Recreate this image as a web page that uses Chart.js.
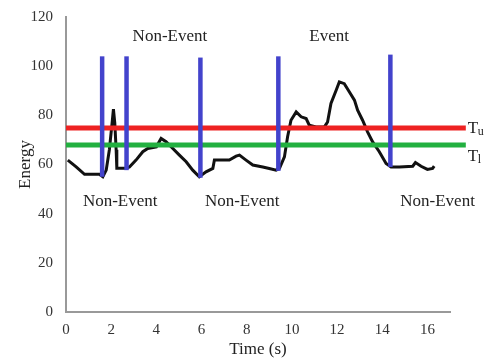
<!DOCTYPE html>
<html>
<head>
<meta charset="utf-8">
<style>
  html, body { margin: 0; padding: 0; background: #fff; }
  #wrap { position: relative; width: 489px; height: 360px; }
</style>
</head>
<body>
<div id="wrap">
  <canvas id="energyChart"></canvas>
</div>

<script src="https://cdn.jsdelivr.net/npm/chart.js@4.4.1/dist/chart.umd.min.js"></script>
<script>
  const ctx = document.getElementById('energyChart');

  // energy curve
  const time   = [0.08, 0.45, 0.82, 1.48, 1.63, 1.78, 1.92, 2.04, 2.1, 2.16, 2.22, 2.25, 2.66, 2.81, 3.1, 3.4, 3.62, 4.0, 4.21, 4.43,
                  4.73, 5.02, 5.32, 5.61, 5.9, 6.2, 6.5, 6.57, 7.23, 7.53, 7.68, 7.97, 8.27, 8.71, 9.0, 9.3, 9.45, 9.67, 9.81, 9.96,
                  10.19, 10.41, 10.63, 10.77, 11.07, 11.44, 11.58, 11.73, 11.96, 12.1, 12.32, 12.54, 12.77, 12.91, 13.13, 13.35, 13.57, 13.87, 14.17, 14.39,
                  14.76, 15.35, 15.47, 15.72, 16.0, 16.23, 16.3];
  const energy = [61.8, 59, 56, 56, 55, 57.7, 66, 76.8, 82.5, 76.8, 66, 58.5, 58.5, 59, 61.8, 65.2, 66.5, 67.2, 70.6, 69.3,
                  66.5, 63.8, 61.1, 57.7, 55, 57, 58.4, 61.8, 61.8, 63.4, 63.8, 61.8, 59.8, 59, 58.4, 57.7, 58.4, 63.1, 71.3, 78,
                  81.4, 79.4, 78.7, 76, 75.3, 75.3, 77.3, 84.8, 90.2, 93.6, 92.9, 89.6, 86.2, 82.1, 78, 73.3, 69.3, 65.2, 60.4, 59,
                  59, 59.3, 60.8, 59.3, 58, 58.4, 59.3];

  // segment boundaries (blue bars)
  const boundX      = [1.6, 2.68, 5.95, 9.4, 14.36];
  const boundTop    = [104, 104, 103.5, 104, 104.7];
  const boundBottom = [55, 57.7, 54.6, 57.4, 59];

  // thresholds
  const upperT = 74.8;
  const lowerT = 67.9;
  const threshEnd = 17.7;

  const xTicks = [0, 2, 4, 6, 8, 10, 12, 14, 16];

  const notes = [
    { text: 'Non-Event', x: 4.6,  y: 112 },
    { text: 'Event',     x: 11.65, y: 112 },
    { text: 'Non-Event', x: 2.4,  y: 45 },
    { text: 'Non-Event', x: 7.8,  y: 45 },
    { text: 'Non-Event', x: 16.45, y: 45 }
  ];

  const datasets = [
    { data: time.map((t, i) => ({ x: t, y: energy[i] })), borderColor: '#111', borderWidth: 3, order: 3 },
    { data: [{ x: 0, y: upperT }, { x: threshEnd, y: upperT }], borderColor: '#ee2222', borderWidth: 5, clip: false, order: 2 },
    { data: [{ x: 0, y: lowerT }, { x: threshEnd, y: lowerT }], borderColor: '#22b040', borderWidth: 5, clip: false, order: 2 }
  ];
  boundX.forEach((bx, i) => {
    datasets.push({ data: [{ x: bx, y: boundBottom[i] }, { x: bx, y: boundTop[i] }], borderColor: '#4343cc', borderWidth: 4.5, order: 1 });
  });

  const notesPlugin = {
    id: 'notes',
    afterDatasetsDraw(chart) {
      const c = chart.ctx;
      const xs = chart.scales.x, ys = chart.scales.y;
      c.save();
      c.fillStyle = '#222';
      c.font = '17px "Liberation Serif", serif';
      c.textAlign = 'center';
      c.textBaseline = 'middle';
      notes.forEach(n => c.fillText(n.text, xs.getPixelForValue(n.x), ys.getPixelForValue(n.y)));
      // threshold names with subscripts
      c.textAlign = 'left';
      [[upperT, 'u', 0], [lowerT, 'l', 11]].forEach(([v, sub, dy]) => {
        const px = xs.getPixelForValue(threshEnd) + 2;
        const py = ys.getPixelForValue(v) + dy;
        c.font = '17px "Liberation Serif", serif';
        c.fillText('T', px, py);
        c.font = '12px "Liberation Serif", serif';
        c.fillText(sub, px + 10, py + 4);
      });
      c.restore();
    }
  };

  new Chart(ctx, {
    type: 'scatter',
    data: { datasets: datasets },
    options: {
      responsive: true,
      maintainAspectRatio: false,
      animation: false,
      showLine: true,
      elements: { point: { radius: 0 }, line: { tension: 0 } },
      layout: { padding: { top: 17, right: 39, left: 0, bottom: 0 } },
      plugins: { legend: { display: false }, tooltip: { enabled: false } },
      scales: {
        x: {
          type: 'linear', min: 0, max: 17,
          afterBuildTicks: s => { s.ticks = xTicks.map(v => ({ value: v })); },
          afterFit: s => { s.height = 48; },
          grid: { display: false },
          border: { color: '#999', width: 2 },
          ticks: { color: '#333', padding: 1, maxRotation: 0, font: { family: '"Liberation Serif", serif', size: 15 } },
          title: { display: true, text: 'Time (s)', color: '#222', padding: 0, font: { family: '"Liberation Serif", serif', size: 17 } }
        },
        y: {
          min: 0, max: 120,
          ticks: { stepSize: 20, color: '#333', padding: 5, font: { family: '"Liberation Serif", serif', size: 15 } },
          afterFit: s => { s.width = 66; },
          grid: { display: false },
          border: { color: '#999', width: 2 },
          title: { display: true, text: 'Energy', color: '#222', padding: { top: 15, bottom: 0 }, font: { family: '"Liberation Serif", serif', size: 17 } }
        }
      }
    },
    plugins: [notesPlugin]
  });
</script>
</body>
</html>
